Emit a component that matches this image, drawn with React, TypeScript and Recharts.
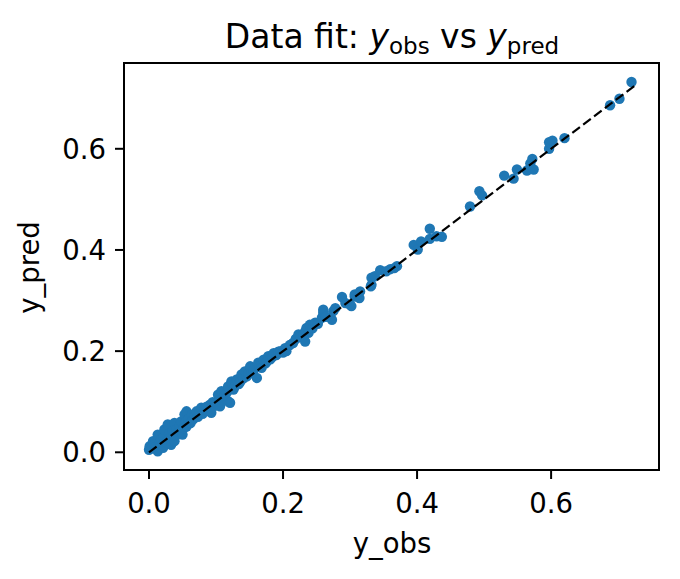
import React from 'react';
import {
  ScatterChart,
  Scatter,
  XAxis,
  YAxis,
  ReferenceArea,
} from 'recharts';

const yObs = [
  0.000, 0.001, 0.004, 0.006, 0.008, 0.010, 0.013, 0.013, 0.016, 0.018,
  0.021, 0.022, 0.023, 0.026, 0.028, 0.030, 0.031, 0.033, 0.035, 0.038,
  0.038, 0.040, 0.041, 0.044, 0.046, 0.048, 0.050, 0.052, 0.053, 0.055,
  0.056, 0.056, 0.059, 0.062, 0.064, 0.066, 0.068, 0.071, 0.073, 0.075,
  0.078, 0.080, 0.083, 0.086, 0.088, 0.091, 0.093, 0.095, 0.098, 0.100,
  0.103, 0.105, 0.106, 0.108, 0.110, 0.113, 0.116, 0.118, 0.118, 0.121,
  0.123, 0.123, 0.126, 0.128, 0.131, 0.134, 0.136, 0.138, 0.141, 0.143,
  0.146, 0.148, 0.151, 0.153, 0.156, 0.158, 0.161, 0.163, 0.165, 0.168,
  0.171, 0.174, 0.176, 0.178, 0.181, 0.184, 0.186, 0.190, 0.193, 0.196,
  0.200, 0.203, 0.205, 0.210, 0.215, 0.219, 0.223, 0.226, 0.230, 0.233,
  0.233, 0.235, 0.238, 0.240, 0.244, 0.248, 0.252, 0.258, 0.260, 0.260,
  0.264, 0.273, 0.275, 0.278, 0.288, 0.293, 0.300, 0.302, 0.307, 0.307,
  0.314, 0.315, 0.331, 0.332, 0.332, 0.337, 0.345, 0.354, 0.360, 0.366,
  0.370, 0.395, 0.401, 0.406, 0.419, 0.419, 0.429, 0.437, 0.479, 0.493,
  0.497, 0.530, 0.544, 0.549, 0.564, 0.569, 0.572, 0.574, 0.597, 0.597,
  0.602, 0.620, 0.688, 0.702, 0.720,
];

// predicted values (y), same order
const yPred = [
  0.005, 0.012, 0.008, 0.022, 0.015, 0.010, 0.002, 0.035, 0.018, 0.026,
  0.009, 0.030, 0.045, 0.020, 0.055, 0.037, 0.028, 0.015, 0.042, 0.022,
  0.058, 0.033, 0.045, 0.040, 0.052, 0.061, 0.035, 0.048, 0.075, 0.060,
  0.081, 0.051, 0.066, 0.058, 0.074, 0.065, 0.072, 0.081, 0.070, 0.079,
  0.088, 0.076, 0.085, 0.090, 0.082, 0.094, 0.078, 0.099, 0.092, 0.098,
  0.114, 0.103, 0.091, 0.121, 0.108, 0.112, 0.118, 0.101, 0.130, 0.098,
  0.137, 0.140, 0.124, 0.130, 0.144, 0.135, 0.139, 0.154, 0.146, 0.160,
  0.150, 0.155, 0.170, 0.158, 0.162, 0.166, 0.147, 0.177, 0.170, 0.167,
  0.183, 0.176, 0.180, 0.190, 0.184, 0.188, 0.196, 0.192, 0.199, 0.200,
  0.197, 0.206, 0.200, 0.212, 0.216, 0.224, 0.233, 0.228, 0.232, 0.239,
  0.219, 0.246, 0.236, 0.252, 0.245, 0.256, 0.254, 0.266, 0.276, 0.282,
  0.268, 0.262, 0.279, 0.285, 0.307, 0.295, 0.292, 0.289, 0.308, 0.312,
  0.305, 0.318, 0.328, 0.345, 0.331, 0.348, 0.360, 0.358, 0.362, 0.364,
  0.368, 0.410, 0.401, 0.417, 0.442, 0.422, 0.427, 0.426, 0.486, 0.516,
  0.508, 0.547, 0.541, 0.559, 0.557, 0.571, 0.580, 0.559, 0.600, 0.613,
  0.616, 0.621, 0.686, 0.699, 0.732,
];

const xTicks = [0, 0.2, 0.4, 0.6];
const yTicks = [0, 0.2, 0.4, 0.6];
const xDomain = [-0.0373, 0.761];
const yDomain = [-0.035, 0.7696];
const fitLine = [0, 0.726];

const points = yObs.map((x, i) => ({ x, y: yPred[i] }));
const linePoints = fitLine.map((v) => ({ x: v, y: v }));

const font = 'DejaVu Sans, sans-serif';
const tickStyle = { fill: '#000', fontSize: 27.5, fontFamily: font };

export default function App() {
  return (
    <div style={{ position: 'absolute', left: 0, top: 0, width: 680, height: 579, background: '#fff' }}>
      <ScatterChart
        width={680}
        height={579}
        margin={{ top: 63, right: 21, bottom: 0, left: 0 }}
      >
        <ReferenceArea
          x1={xDomain[0]}
          x2={xDomain[1]}
          y1={yDomain[0]}
          y2={yDomain[1]}
          fill="none"
          stroke="#000"
          strokeWidth={2}
          ifOverflow="visible"
        />
        <XAxis
          type="number"
          dataKey="x"
          domain={xDomain}
          ticks={xTicks}
          allowDataOverflow
          tickFormatter={(v: number) => v.toFixed(1)}
          tick={tickStyle}
          tickSize={9}
          tickMargin={14}
          tickLine={{ stroke: '#000', strokeWidth: 2 }}
          axisLine={{ stroke: '#000', strokeWidth: 2 }}
          height={109}
        />
        <YAxis
          type="number"
          dataKey="y"
          domain={yDomain}
          ticks={yTicks}
          allowDataOverflow
          tickFormatter={(v: number) => v.toFixed(1)}
          tick={tickStyle}
          tickSize={9}
          tickMargin={9}
          tickLine={{ stroke: '#000', strokeWidth: 2 }}
          axisLine={{ stroke: '#000', strokeWidth: 2 }}
          width={124}
        />
        <Scatter
          data={points}
          fill="#1f77b4"
          shape={(p: any) => <circle cx={p.cx} cy={p.cy} r={5.2} fill="#1f77b4" />}
          isAnimationActive={false}
        />
        <Scatter
          data={linePoints}
          line={{ stroke: '#000', strokeWidth: 2.2, strokeDasharray: '9.5 4.1' }}
          shape={() => <g />}
          isAnimationActive={false}
        />
      </ScatterChart>
      <svg
        width={680}
        height={579}
        style={{ position: 'absolute', left: 0, top: 0, pointerEvents: 'none' }}
      >
        <text x={392} y={47.5} textAnchor="middle" fontFamily={font} fontSize={33} fill="#000">
          <tspan>Data fit: </tspan>
          <tspan fontStyle="italic">y</tspan>
          <tspan fontSize={23} dy={6}>obs</tspan>
          <tspan dy={-6}> vs </tspan>
          <tspan fontStyle="italic">y</tspan>
          <tspan fontSize={23} dy={6}>pred</tspan>
        </text>
        <text x={392} y={552.5} textAnchor="middle" fontFamily={font} fontSize={27.5} fill="#000">
          y_obs
        </text>
        <text
          x={0}
          y={0}
          transform="translate(39,267.5) rotate(-90)"
          textAnchor="middle"
          fontFamily={font}
          fontSize={27.5}
          fill="#000"
        >
          y_pred
        </text>
      </svg>
    </div>
  );
}
